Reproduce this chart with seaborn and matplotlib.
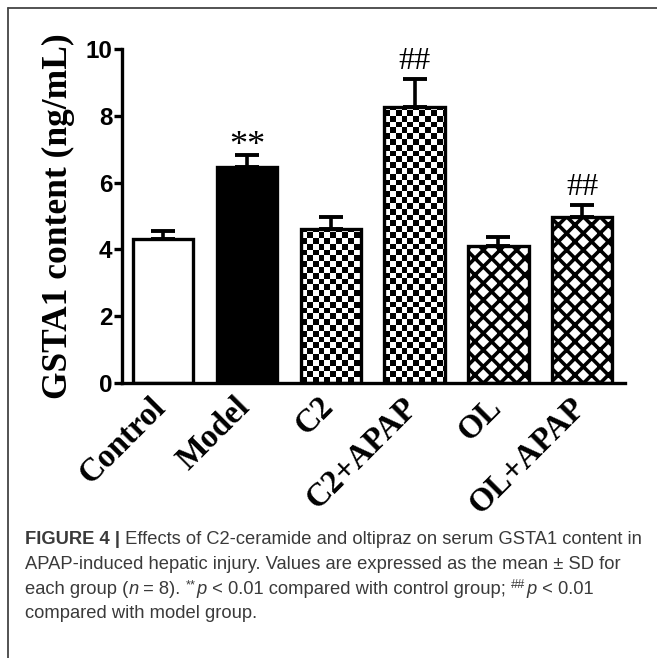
import numpy as np
import matplotlib
matplotlib.use("Agg")
import matplotlib.pyplot as plt
import matplotlib.transforms as mtransforms
from matplotlib.lines import Line2D
import seaborn as sns

# --- DATA ---
GROUPS = ["Control", "Model", "C2", "C2+APAP", "OL", "OL+APAP"]
MEANS = [4.31, 6.48, 4.61, 8.25, 4.10, 4.98]
SDS = [0.24, 0.35, 0.35, 0.85, 0.26, 0.35]
MARKS = ["", "**", "", "##", "", "##"]
FILLS = ["plain", "solid", "checker", "checker", "lattice", "lattice"]
YTICKS = [0, 2, 4, 6, 8, 10]

CAPTION = [
    [("FIGURE 4 |", "bold", "normal", False), (" Effects of C2-ceramide and oltipraz on serum GSTA1 content in", "normal", "normal", False)],
    [("APAP-induced hepatic injury. Values are expressed as the mean \u00b1 SD for", "normal", "normal", False)],
    [("each group (", "normal", "normal", False), ("n", "normal", "italic", False), (" = 8). ", "normal", "normal", False),
     ("**", "normal", "normal", True), ("p", "normal", "italic", False),
     (" < 0.01 compared with control group; ", "normal", "normal", False),
     ("##", "normal", "normal", True), ("p", "normal", "italic", False), (" < 0.01", "normal", "normal", False)],
    [("compared with model group.", "normal", "normal", False)],
]

# --- STYLE ---
SERIF = "Liberation Serif"
SANS = "Liberation Sans"
CELL = 5.8          # checker square size in px
CAP_COLOR = "#3a3a3a"
CAP_SIZE = 13.2
MARK_STYLE = {"**": (26, -0.25), "##": (23, 0.08)}   # fontsize, gap above cap

sns.set_theme(style="ticks")
plt.rcParams["hatch.linewidth"] = 2.6
plt.rcParams["font.family"] = [SANS, "DejaVu Sans"]

fig = plt.figure(figsize=(6.57, 6.58), dpi=100)
W, H = 657, 658
ax = fig.add_axes([122 / W, 1 - 383 / H, 503 / W, 334 / H])

face = {"plain": "white", "solid": "black", "checker": "none", "lattice": "white"}
sns.barplot(x=GROUPS, y=MEANS, hue=GROUPS, palette=[face[f] for f in FILLS], legend=False,
            saturation=1, width=0.72, edgecolor="black", linewidth=2.4, errorbar=None, ax=ax)

ax.set_xlim(-0.49, 5.51)
ax.set_ylim(0, 10)

# fills: checkerboard via clipped image, lattice via hatch
for patch, fill in zip(ax.patches, FILLS):
    patch.set_zorder(2)
    if fill == "lattice":
        patch.set_hatch("xx")
    elif fill == "checker":
        patch.set_facecolor("none")
        x0, y0 = patch.get_x(), patch.get_y()
        w, h = patch.get_width(), patch.get_height()
        (px0, py0), (px1, py1) = ax.transData.transform([(x0, y0), (x0 + w, y0 + h)])
        sx, sy = (px1 - px0) / w, (py1 - py0) / h
        nx = int(np.ceil((px1 - px0) / CELL)) + 1
        ny = int(np.ceil((py1 - py0) / CELL)) + 1
        board = np.add.outer(np.arange(ny), np.arange(nx)) % 2
        im = ax.imshow(board, cmap="gray", vmin=0, vmax=1, interpolation="nearest", aspect="auto",
                       origin="lower", extent=(x0, x0 + nx * CELL / sx, y0, y0 + ny * CELL / sy), zorder=1.8)
        im.set_clip_path(patch)

ax.set_xlim(-0.49, 5.51)
ax.set_ylim(0, 10)

xs = np.arange(len(GROUPS))
ax.errorbar(xs, MEANS, yerr=[np.zeros(len(SDS)), SDS], fmt="none", ecolor="black",
            elinewidth=2.6, capsize=8.5, capthick=2.8, zorder=1.5)

for x, m, s, mark in zip(xs, MEANS, SDS, MARKS):
    if mark:
        size, gap = MARK_STYLE[mark]
        ax.text(x, m + s + gap, mark, ha="center", va="bottom", fontsize=size,
                family=SERIF, color="black")

sns.despine(ax=ax)
for side in ["left", "bottom"]:
    ax.spines[side].set_linewidth(2.4)
    ax.spines[side].set_color("black")
ax.set_yticks(YTICKS)
ax.tick_params(axis="y", direction="out", length=6, width=2.4, pad=1, colors="black")
ax.tick_params(axis="x", direction="in", length=6, width=2, pad=6, colors="black")
ax.set_yticklabels([str(t) for t in YTICKS], family=SANS, fontweight="bold", fontsize=17.5)
ax.set_xticks(xs)
ax.set_xticklabels(GROUPS, rotation=45, ha="right", family=SERIF, fontweight="bold", fontsize=23.5)
shift = mtransforms.ScaledTranslation(0.09, 0, fig.dpi_scale_trans)
for lbl in ax.get_xticklabels():
    lbl.set_transform(lbl.get_transform() + shift)
ax.set_xlabel("")
ax.set_ylabel("GSTA1 content (ng/mL)", family=SERIF, fontweight="bold", fontsize=25.5, color="black")
ax.yaxis.set_label_coords(-0.094, 0.5)

# --- frame lines around the panel ---
fig.add_artist(Line2D([8 / W, 1], [1 - 8 / H, 1 - 8 / H], color="#444444", lw=1.3))
fig.add_artist(Line2D([8 / W, 8 / W], [0, 1 - 8 / H], color="#444444", lw=1.3))

# --- caption ---
renderer = fig.canvas.get_renderer()
line_y = [544, 569, 594, 618]
for y, parts in zip(line_y, CAPTION):
    x = 25
    for text, weight, style, sup in parts:
        size = CAP_SIZE * 0.7 if sup else CAP_SIZE
        rise = 6 if sup else 0
        t = fig.text(x / W, 1 - (y - rise) / H, text, fontsize=size, fontweight=weight, fontstyle=style,
                     family=SANS, color=CAP_COLOR, va="baseline", ha="left")
        x = t.get_window_extent(renderer).x1 + (1 if sup else 0)

fig.savefig("out.png", dpi=100)
